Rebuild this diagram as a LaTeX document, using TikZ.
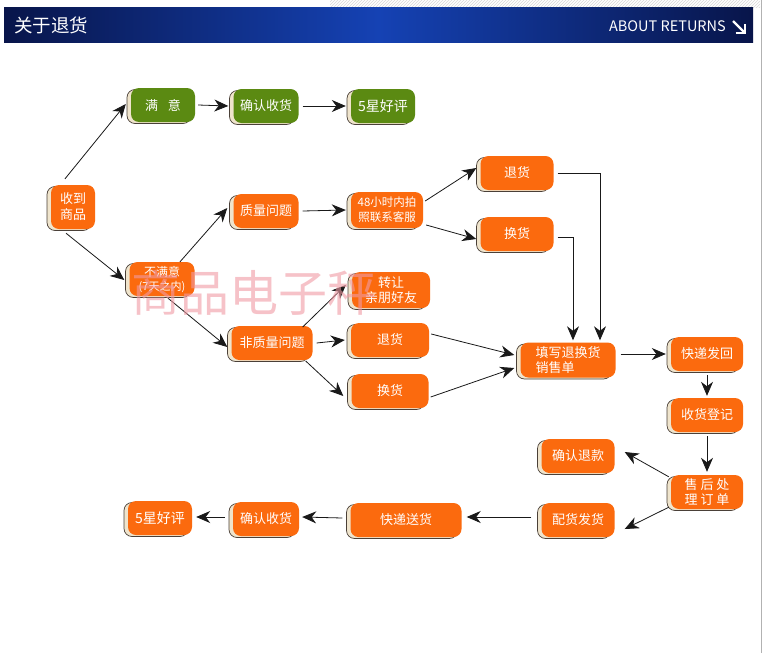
\documentclass[tikz,border=0pt]{standalone}
\usepackage{fontspec}
\setmainfont{Noto Sans CJK SC}
\usetikzlibrary{arrows.meta,shadows,patterns,calc}
\definecolor{orng}{HTML}{FB6A0E}
\definecolor{grn}{HTML}{5B8A12}
\definecolor{cream}{HTML}{EFE4CC}
\definecolor{shadeline}{HTML}{4A4038}
\definecolor{navyA}{HTML}{08154A}
\definecolor{navyB}{HTML}{1542B4}
\definecolor{wmpink}{HTML}{F09AA4}
\begin{document}
\begin{tikzpicture}[x=1pt,y=-1pt,
  box/.style={rectangle, rounded corners=8pt, fill=orng, text=white, draw=none,
    minimum height=34pt, minimum width=#1, inner sep=1pt, align=center,
    font=\fontsize{13}{16}\selectfont,
    general shadow={fill=cream, draw=shadeline, line width=0.7pt, shadow xshift=-4pt, shadow yshift=-1.5pt}},
  box/.default=66pt,
  gbox/.style={box=#1, fill=grn},
  gbox/.default=64pt,
  star/.style={font=\fontsize{14}{16}\selectfont},
  arr/.style={-{Stealth[length=14pt,width=12pt,inset=4.5pt]}, line width=0.8pt, draw=black!90},
  hdr/.style={text=white, inner sep=0pt}
]
\useasboundingbox (0,0) rectangle (763,653);
\fill[white] (0,0) rectangle (763,653);
% top hatching and right edge line
\fill[pattern=north east lines, pattern color=gray!30] (330,0) rectangle (760,7);
\draw[gray!60, line width=0.8pt] (761.5,0) -- (761.5,653);
% header bar
\shade[left color=navyA, right color=navyA, middle color=navyB] (4,7) rectangle (753,42);
\node[hdr, anchor=west, font=\fontsize{18.5}{20}\selectfont] (title) at (14,25) {关于退货};
\node[hdr, anchor=east, font=\fontsize{14.5}{17}\selectfont] (about) at (726,26.5) {ABOUT RETURNS};
\coordinate (ia) at (733,21);
\coordinate (ib) at (745,33);
\draw[white, line width=2.4pt] (ia) -- (ib);
\draw[white, line width=2.4pt] (735.5,33) -- (ib) -- (745,23.5);

% nodes
\node[box=44pt, minimum height=44pt] (shou) at (73,207) {收到\\商品};
\node[gbox=64pt] (manyi) at (163,105) {满\hspace{10pt}意};
\node[gbox=65pt] (queren1) at (266,106) {确认收货};
\node[gbox=64pt, star] (xing1) at (383,106) {5星好评};
\node[box=65pt, font=\fontsize{12}{14}\selectfont] (bumanyi) at (162,279) {不满意\\{\fontsize{11}{12}\selectfont(7天之内)}};
\node[box=65pt] (zhiliang) at (266,211) {质量问题};
\node[box=72pt, minimum height=36pt, font=\fontsize{11.5}{15}\selectfont] (h48) at (387,210) {48小时内拍\\照联系客服};
\node[box=73pt] (tuihuo1) at (517,173) {退货};
\node[box=73pt] (huanhuo1) at (517,234) {换货};
\node[box=78pt, minimum height=36pt, font=\fontsize{13}{15}\selectfont] (zhuanrang) at (391,290) {转让\\亲朋好友};
\node[box=81pt] (feizhiliang) at (272,343) {非质量问题};
\node[box=78pt] (tuihuo2) at (390,340) {退货};
\node[box=77pt] (huanhuo2) at (390,391) {换货};
\node[box=95pt, minimum height=35pt, align=left, font=\fontsize{13}{15}\selectfont] (tianxie) at (568,360) {填写退换货\\销售单};
\node[box=72pt] (kuaidi) at (707,354) {快递发回};
\node[box=72pt] (shouhuo) at (707,415) {收货登记};
\node[box=72pt, font=\fontsize{13}{15}\selectfont] (shouhou) at (707,492) {售 后 处\\理 订 单};
\node[box=73pt] (tuikuan) at (578,456) {确认退款};
\node[box=73pt] (peihuo) at (578,520) {配货发货};
\node[box=111pt] (kuaidisong) at (406,520) {快递送货};
\node[box=66pt] (queren2) at (266,519) {确认收货};
\node[box=64pt, star] (xing2) at (160,518) {5星好评};

% connectors
\draw[arr] ([xshift=-8pt,yshift=6pt]shou.north) -- ([xshift=-5pt,yshift=1pt]manyi.west);
\draw[arr] ([xshift=-7pt,yshift=-4pt]shou.south) -- ([xshift=-5pt,yshift=-1pt]bumanyi.west);
\draw[arr] ([xshift=3pt]manyi.east) -- ([xshift=-5pt]queren1.west);
\draw[arr] ([xshift=4pt]queren1.east) -- ([xshift=-5pt]xing1.west);
\draw[arr] ([xshift=18pt]bumanyi.north) -- ([xshift=-6pt,yshift=3pt]zhiliang.west);
\draw[arr] ([xshift=6pt,yshift=-2pt]bumanyi.south) -- ([xshift=-4pt,yshift=-4pt]feizhiliang.west);
\draw[arr] ([xshift=4pt]zhiliang.east) -- ([xshift=-5pt]h48.west);
\draw[arr] ([xshift=2pt,yshift=9pt]h48.east) -- ([xshift=-4pt,yshift=5pt]tuihuo1.west);
\draw[arr] ([xshift=3pt,yshift=-15pt]h48.east) -- ([xshift=-4pt,yshift=-5pt]huanhuo1.west);
\draw[arr] ([xshift=-10pt,yshift=16pt]feizhiliang.east) -- ([xshift=-6pt,yshift=5pt]zhuanrang.west);
\draw[arr] ([xshift=4pt]feizhiliang.east) -- ([xshift=-6pt]tuihuo2.west);
\draw[arr] ([xshift=-7pt,yshift=-18pt]feizhiliang.east) -- ([xshift=-8pt,yshift=-5pt]huanhuo2.west);
\draw[arr] ([xshift=2pt,yshift=6pt]tuihuo2.east) -- ([xshift=-6pt,yshift=5pt]tianxie.west);
\draw[arr] ([xshift=2pt,yshift=-6pt]huanhuo2.east) -- ([xshift=-6pt,yshift=-8pt]tianxie.west);
\draw[arr] ([xshift=4pt]tuihuo1.east) -| ([xshift=32pt,yshift=2pt]tianxie.north);
\draw[arr] ([xshift=4pt,yshift=-3pt]huanhuo1.east) -| ([xshift=5pt,yshift=2pt]tianxie.north);
\draw[arr] ([xshift=5pt,yshift=6pt]tianxie.east) -- ([xshift=-5pt]kuaidi.west);
\draw[arr] ([yshift=-4pt]kuaidi.south) -- ([yshift=2pt]shouhuo.north);
\draw[arr] ([yshift=-4pt]shouhuo.south) -- ([yshift=3pt]shouhou.north);
\draw[arr] ([xshift=-2pt,yshift=-2pt]shouhou.north west) -- ([xshift=10pt,yshift=4pt]tuikuan.east);
\draw[arr] ([xshift=-2pt,yshift=2pt]shouhou.south west) -- ([xshift=10pt,yshift=-9pt]peihuo.east);
\draw[arr] ([xshift=-10pt,yshift=3pt]peihuo.west) -- ([xshift=5pt,yshift=3pt]kuaidisong.east);
\draw[arr] ([xshift=-8pt,yshift=2pt]kuaidisong.west) -- ([xshift=3pt,yshift=2pt]queren2.east);
\draw[arr] ([xshift=-8pt,yshift=2pt]queren2.west) -- ([xshift=4pt,yshift=1pt]xing2.east);

% watermark
\node[text=wmpink, opacity=0.6, font=\fontsize{49}{50}\selectfont, inner sep=0pt] (wm) at (254,293) {商品电子秤};
\end{tikzpicture}
\end{document}
